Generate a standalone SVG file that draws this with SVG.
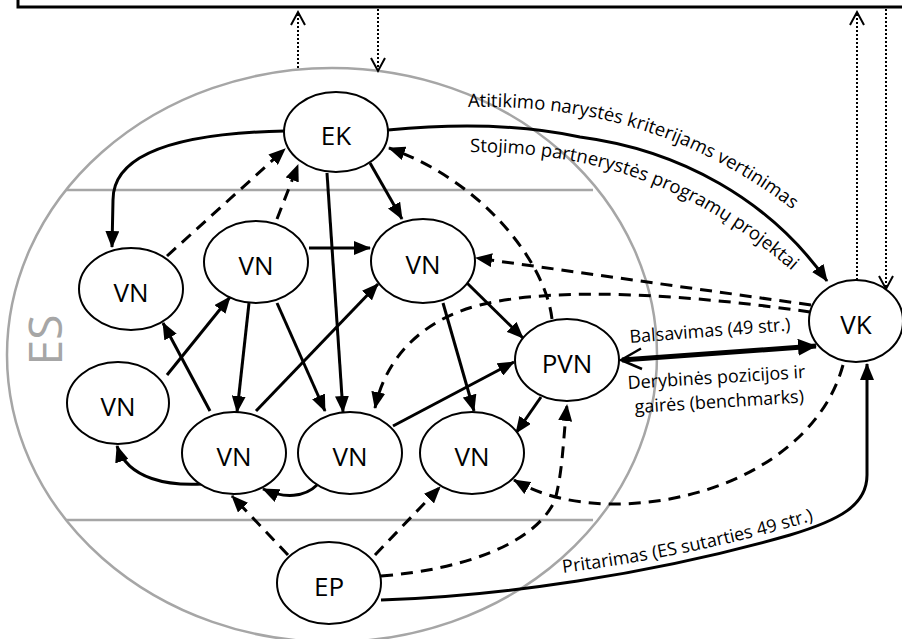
<svg xmlns="http://www.w3.org/2000/svg" width="902" height="639" viewBox="0 0 902 639">
<style>
.node ellipse{fill:#fff;stroke:#000;stroke-width:2}
.node text{font-family:"Open Sans","Noto Sans",sans-serif;font-size:26px;text-anchor:middle;fill:#000}
.c{fill:none;stroke:#000;stroke-width:3}
.s{marker-end:url(#ah)}
.d{stroke-dasharray:12 8;marker-end:url(#ah)}
.dot{fill:none;stroke:#000;stroke-width:2;stroke-dasharray:2 2;marker-end:url(#oh)}
.lbl{font-family:"Open Sans","Noto Sans",sans-serif;font-size:18px;fill:#000}
.big{font-size:18.5px}
.gray{fill:none;stroke:#a6a6a6;stroke-width:2.5}
</style>
<defs>
<marker id="ah" markerUnits="userSpaceOnUse" markerWidth="17" markerHeight="14" refX="16" refY="7" orient="auto"><path d="M0,0 L17,7 L0,14 z" fill="#000"/></marker>
<marker id="ah2" markerUnits="userSpaceOnUse" markerWidth="19" markerHeight="17" refX="18" refY="8.5" orient="auto"><path d="M0,0 L19,8.5 L0,17 z" fill="#000"/></marker>
<marker id="oh" markerUnits="userSpaceOnUse" markerWidth="16" markerHeight="16" refX="14" refY="8" orient="auto" overflow="visible"><path d="M1,1 L14,8 L1,15" fill="none" stroke="#000" stroke-width="2"/></marker>
<path id="tp1" d="M468,107 C580,105 708,127 838,248"/>
<path id="tp2" d="M470,152 C580,152 690,178 800,278"/>
<path id="tp3" d="M563,573 Q700,555 818,519"/>
</defs>

<g id="frame">
<rect x="18" y="-20" width="900" height="27" fill="none" stroke="#000" stroke-width="3"/>
</g>

<g id="es">
<ellipse class="gray" cx="332" cy="355" rx="325" ry="287"/>
<line class="gray" x1="66" y1="190" x2="593" y2="190" stroke-width="2"/>
<line class="gray" x1="66" y1="520" x2="593" y2="520" stroke-width="2"/>
<text transform="translate(62,340) rotate(-90)" text-anchor="middle" font-family="Open Sans, Noto Sans, sans-serif" font-size="46" fill="#a6a6a6">ES</text>
</g>

<g id="connectors">
<path class="c s" d="M285,131 C190,133 113,150 113,200 L112,247"/>
<path class="c s" d="M370,163 L402,219"/>
<path class="c s" d="M327,173 L343,412"/>
<path class="c s" d="M309,248 L370,248"/>
<path class="c s" d="M249,303 L237,412"/>
<path class="c s" d="M277,303 L325,411"/>
<path class="c s" d="M256,411 L378,284"/>
<path class="c s" d="M210,411 L163,323"/>
<path class="c s" d="M167,375 L230,297"/>
<path class="c s" d="M203,484 C170,486 128,480 117,446"/>
<path class="c s" d="M317,485 C305,497 285,499 263,489"/>
<path class="c s" d="M467,283 L523,338"/>
<path class="c s" d="M443,303 L474,411"/>
<path class="c s" d="M393,426 L514,362"/>
<path class="c s" d="M541,397 L516,433"/>
<path class="c s" d="M381,600 C500,596 650,575 790,535 C840,520 867,505 867,475 L867,364"/>
<path class="c s" d="M388,130 C450,124 520,124 580,137 C680,150 770,200 827,281"/>
<path d="M622,360 L816,346" fill="none" stroke="#000" stroke-width="5" marker-end="url(#ah2)"/>
<path d="M641,348.5 L621,360 L642,369" fill="none" stroke="#000" stroke-width="2.5"/>
<path class="c d" d="M167,256 L285,149"/>
<path class="c d" d="M277,219 L298,165"/>
<path class="c d" d="M552,319 C545,260 480,180 389,148"/>
<path class="c d" d="M811,305 L476,258"/>
<path class="c d" d="M810,312 C700,296 560,285 480,305 C420,320 385,360 375,408"/>
<path class="c d" d="M843,365 C820,450 720,505 610,504 C570,503 540,495 514,480"/>
<path class="c d" d="M288,555 L232,496"/>
<path class="c d" d="M375,555 L440,487"/>
<path class="c d" d="M381,576 C460,570 535,545 555,500 C563,470 563,440 567,405"/>
<path class="dot" d="M298,68 L298,12"/>
<path class="dot" d="M378,9 L378,71"/>
<path class="dot" d="M857,280 L857,12"/>
<path class="dot" d="M886,9 L886,289"/>
</g>

<g id="labels">
<text class="lbl big"><textPath href="#tp1">Atitikimo narystės kriterijams vertinimas</textPath></text>
<text class="lbl big"><textPath href="#tp2">Stojimo partnerystės programų projektai</textPath></text>
<text class="lbl"><textPath href="#tp3">Pritarimas (ES sutarties 49 str.)</textPath></text>
<text class="lbl" x="630" y="343" transform="rotate(-4.5 630 343)">Balsavimas (49 str.)</text>
<text class="lbl" x="628" y="389" transform="rotate(-3.6 628 389)">Derybinės pozicijos ir</text>
<text class="lbl" x="635" y="413" transform="rotate(-3.6 635 413)">gairės (benchmarks)</text>
</g>

<g id="EK" class="node"><ellipse cx="336" cy="132" rx="52" ry="40"/><text x="336" y="145">EK</text></g>
<g id="VN1" class="node"><ellipse cx="131" cy="289" rx="52" ry="41"/><text x="131" y="302">VN</text></g>
<g id="VN2" class="node"><ellipse cx="256" cy="262" rx="52" ry="41"/><text x="256" y="275">VN</text></g>
<g id="VN3" class="node"><ellipse cx="423" cy="261" rx="52" ry="42"/><text x="423" y="274">VN</text></g>
<g id="VN4" class="node"><ellipse cx="118" cy="403" rx="51" ry="41"/><text x="118" y="416">VN</text></g>
<g id="VN5" class="node"><ellipse cx="234" cy="453" rx="52" ry="41"/><text x="234" y="466">VN</text></g>
<g id="VN6" class="node"><ellipse cx="350" cy="453" rx="52" ry="41"/><text x="350" y="466">VN</text></g>
<g id="VN7" class="node"><ellipse cx="472" cy="453" rx="52" ry="41"/><text x="472" y="466">VN</text></g>
<g id="PVN" class="node"><ellipse cx="567" cy="360" rx="52" ry="41"/><text x="567" y="373">PVN</text></g>
<g id="VK" class="node"><ellipse cx="856" cy="321" rx="47" ry="41"/><text x="856" y="334">VK</text></g>
<g id="EP" class="node"><ellipse cx="329" cy="583" rx="52" ry="41"/><text x="329" y="596">EP</text></g>
</svg>
